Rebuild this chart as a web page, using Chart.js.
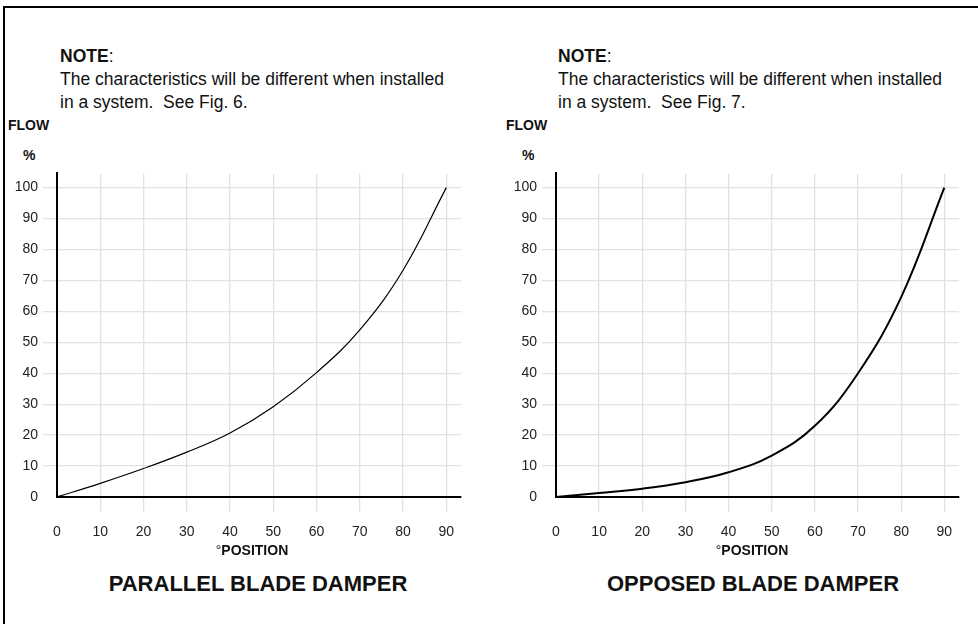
<!DOCTYPE html>
<html>
<head>
<meta charset="utf-8">
<script src="https://cdn.jsdelivr.net/npm/chart.js@4.4.1/dist/chart.umd.min.js"></script>
<style>
    body {margin: 0; background: #fff; font-family: "Liberation Sans", Arial, sans-serif; color: #111;}
    #page {position: relative; width: 978px; height: 624px; overflow: hidden;}
    .frame-top {position: absolute; left: 3px; top: 6px; width: 975px; height: 2px; background: #000;}
    .frame-left {position: absolute; left: 3px; top: 6px; width: 2px; height: 618px; background: #000;}
    .note {position: absolute; top: 45px; font-size: 17.5px; line-height: 23px; white-space: nowrap;}
    .note b {font-weight: bold;}
    .flow, .pct {position: absolute; font-size: 14px; line-height: 16px; font-weight: bold;}
    .flow {top: 117px;}
    .pct {top: 147px;}
    .xtitle {position: absolute; top: 542px; width: 200px; text-align: center; font-size: 14px; line-height: 16px; font-weight: bold;}
    .xtitle span {font-weight: normal;}
    .title {position: absolute; top: 571px; width: 400px; text-align: center; font-size: 22px; line-height: 26px; font-weight: bold;}
    canvas {position: absolute; top: 160px;}
</style>
</head>
<body>
<div id="page">
    <div class="frame-top"></div>
    <div class="frame-left"></div>

    <div class="note" style="left:60px"><b>NOTE</b>:<br>The characteristics will be different when installed<br>in a system.&nbsp; See Fig. 6.</div>
    <div class="note" style="left:558px"><b>NOTE</b>:<br>The characteristics will be different when installed<br>in a system.&nbsp; See Fig. 7.</div>

    <div class="flow" style="left:8px">FLOW</div>
    <div class="pct" style="left:23px">%</div>
    <div class="flow" style="left:506px">FLOW</div>
    <div class="pct" style="left:522px">%</div>

    <canvas id="parallel" width="489" height="400" style="left:0px"></canvas>
    <canvas id="opposed" width="488" height="400" style="left:490px"></canvas>

    <div class="xtitle" style="left:152px"><span>°</span>POSITION</div>
    <div class="xtitle" style="left:652px"><span>°</span>POSITION</div>

    <div class="title" style="left:58px">PARALLEL BLADE DAMPER</div>
    <div class="title" style="left:553px">OPPOSED BLADE DAMPER</div>
</div>

<script>
    // damper position in degrees
    const positions = [0, 10, 20, 30, 40, 50, 60, 70, 80, 90];
    // flow %
    const parallelFlow = [0, 4.4, 9.2, 14.5, 20.7, 29.2, 40.2, 54, 73.3, 100];
    const opposedFlow = [0, 1.3, 2.7, 4.8, 8.0, 13.4, 23, 40, 64.6, 100];

    // tick labels on the axes
    const xTicks = [0, 10, 20, 30, 40, 50, 60, 70, 80, 90];
    const yTicks = [0, 10, 20, 30, 40, 50, 60, 70, 80, 90, 100];

    const GRID = '#e2e2e2';
    const FONT = '"Liberation Sans", Arial, sans-serif';

    function gridColor(ctx) {
        return ctx.tick && ctx.tick.value === 0 ? 'rgba(0,0,0,0)' : GRID;
    }

    function makeChart(canvasId, flow, yWidth, padRight, padTop, lineWidth) {
        const points = positions.map((p, i) => ({x: p, y: flow[i]}));

        return new Chart(document.getElementById(canvasId), {
            type: 'line',
            data: {
                datasets: [{
                    data: points,
                    borderColor: '#000',
                    borderWidth: lineWidth,
                    pointRadius: 0,
                    tension: 0.4,
                    fill: false
                }]
            },
            options: {
                responsive: false,
                animation: false,
                devicePixelRatio: 1,
                layout: {padding: {left: 0, right: padRight, top: padTop, bottom: 0}},
                plugins: {
                    legend: {display: false},
                    tooltip: {enabled: false}
                },
                scales: {
                    x: {
                        type: 'linear',
                        min: 0,
                        max: 93.4,
                        afterBuildTicks: scale => { scale.ticks = xTicks.map(v => ({value: v})); },
                        afterFit: scale => { scale.height = 63; },
                        ticks: {
                            maxRotation: 0,
                            autoSkip: false,
                            padding: 12,
                            color: '#222',
                            font: {family: FONT, size: 14}
                        },
                        grid: {color: gridColor, lineWidth: 1.3, tickLength: 15},
                        border: {display: true, color: '#000', width: 2}
                    },
                    y: {
                        min: 0,
                        max: 104.6,
                        afterBuildTicks: scale => { scale.ticks = yTicks.map(v => ({value: v})); },
                        afterFit: scale => { scale.width = yWidth; },
                        ticks: {
                            autoSkip: false,
                            padding: 5,
                            color: '#222',
                            font: {family: FONT, size: 14}
                        },
                        grid: {color: gridColor, lineWidth: 1.3, tickLength: 14},
                        border: {display: true, color: '#000', width: 2}
                    }
                }
            }
        });
    }

    makeChart('parallel', parallelFlow, 57, 28, 11, 1.2);
    makeChart('opposed', opposedFlow, 66, 19, 10, 2);
</script>
</body>
</html>
